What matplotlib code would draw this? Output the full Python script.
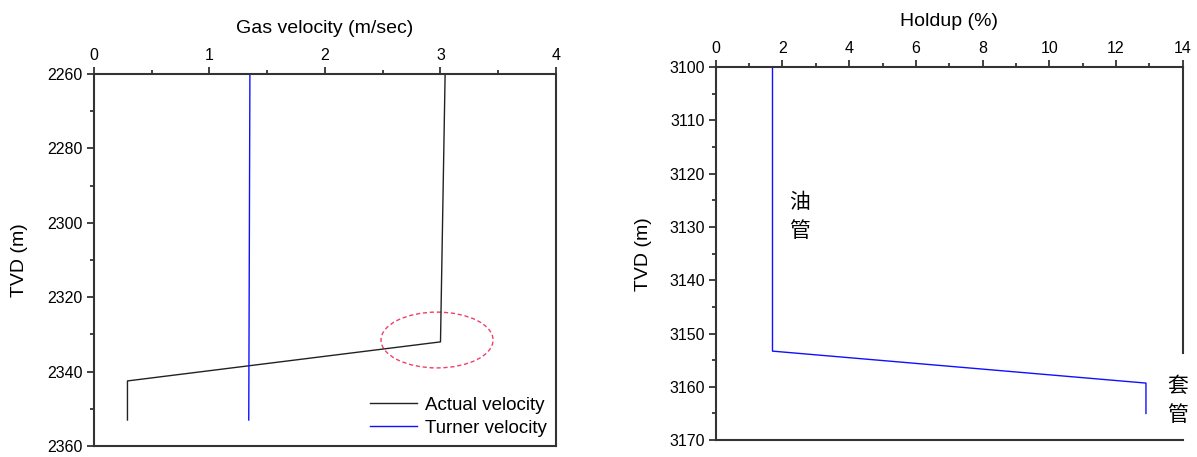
import matplotlib
matplotlib.use("Agg")
import matplotlib.pyplot as plt
import matplotlib.ticker as ticker
from matplotlib.patches import Ellipse

plt.rcParams['font.family'] = ['Liberation Sans', 'Noto Sans CJK SC', 'DejaVu Sans']

# left panel: gas velocity vs depth
actual_v = [3.04, 3.0, 0.29, 0.29]
actual_d = [2260, 2332, 2342.5, 2353]
turner_v = [1.35, 1.34]
turner_d = [2260, 2353]

# right panel: holdup vs depth
holdup = [1.7, 1.7, 12.9, 12.9]
holdup_d = [3100, 3153.3, 3159.3, 3165]

SPINE = '#333333'


def style_axis(ax):
	ax.xaxis.set_ticks_position('top')
	ax.xaxis.set_label_position('top')
	ax.yaxis.set_ticks_position('left')
	for s in ax.spines.values():
		s.set_color(SPINE)
		s.set_linewidth(1.5)
	ax.tick_params(which='major', direction='out', length=5, width=1.3, color=SPINE, labelsize=11.5, pad=3)
	ax.tick_params(which='minor', direction='out', length=3, width=1.3, color=SPINE)


fig = plt.figure(figsize=(11.97, 4.57), dpi=100)

ax1 = fig.add_axes([0.0785, 0.024, 0.386, 0.814])
ax1.plot(actual_v, actual_d, color='#222222', lw=1, label='Actual velocity')
ax1.plot(turner_v, turner_d, color='#1010ff', lw=1, label='Turner velocity')
ax1.set_xlim(0, 4)
ax1.set_ylim(2360, 2260)
ax1.xaxis.set_major_locator(ticker.MultipleLocator(1))
ax1.xaxis.set_minor_locator(ticker.MultipleLocator(0.5))
ax1.yaxis.set_major_locator(ticker.MultipleLocator(20))
ax1.yaxis.set_minor_locator(ticker.MultipleLocator(10))
ax1.set_xlabel('Gas velocity (m/sec)', fontsize=14, labelpad=11)
ax1.set_ylabel('TVD (m)', fontsize=14, labelpad=14)
style_axis(ax1)
ax1.add_patch(Ellipse((2.97, 2331.5), 0.97, 15, fill=False, edgecolor='#f0406a', lw=1, ls=(0, (3, 2))))
ax1.legend(loc='lower right', frameon=False, fontsize=13.5, handlelength=2.5, borderaxespad=0.1,
	labelspacing=0.3, handletextpad=0.4)

ax2 = fig.add_axes([0.598, 0.037, 0.390, 0.816])
ax2.plot(holdup, holdup_d, color='#1010ff', lw=1)
ax2.set_xlim(0, 14)
ax2.set_ylim(3170, 3100)
ax2.xaxis.set_major_locator(ticker.MultipleLocator(2))
ax2.xaxis.set_minor_locator(ticker.MultipleLocator(1))
ax2.yaxis.set_major_locator(ticker.MultipleLocator(10))
ax2.yaxis.set_minor_locator(ticker.MultipleLocator(5))
ax2.set_xlabel('Holdup (%)', fontsize=14, labelpad=11)
ax2.set_ylabel('TVD (m)', fontsize=14, labelpad=12)
style_axis(ax2)
ax2.spines['right'].set_bounds(3100, 3153.6)
ax2.text(2.5, 3128, '油\n管', fontsize=15, ha='center', va='center', linespacing=1.4,
	family=['Noto Sans CJK SC', 'DejaVu Sans'])
ax2.text(13.85, 3162.5, '套\n管', fontsize=15, ha='center', va='center', linespacing=1.4,
	family=['Noto Sans CJK SC', 'DejaVu Sans'], clip_on=False)

fig.savefig('out.png', dpi=100)
